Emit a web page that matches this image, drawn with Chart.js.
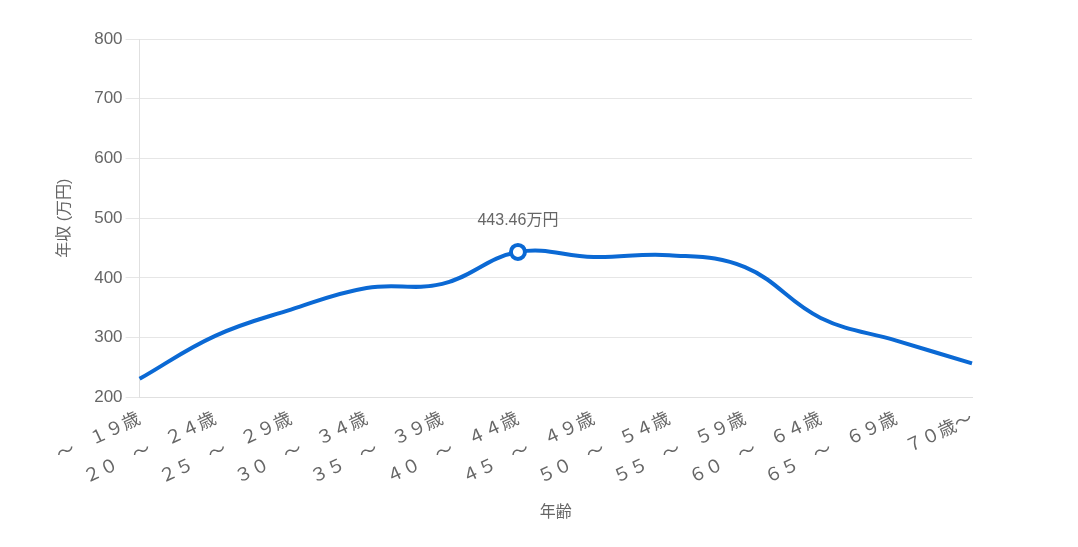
<!DOCTYPE html>
<html lang="ja">
<head>
<meta charset="utf-8">
<script src="https://cdn.jsdelivr.net/npm/chart.js@4"></script>
<style>
  html, body { margin: 0; padding: 0; background: #fff; }
  #wrap { width: 1078px; height: 547px; }
</style>
</head>
<body>
<div id="wrap"><canvas id="incomeChart"></canvas></div>
<script>
// Age brackets (x axis)
const ageLabels = [
  '～　１９歳', '２０　～　２４歳', '２５　～　２９歳', '３０　～　３４歳',
  '３５　～　３９歳', '４０　～　４４歳', '４５　～　４９歳', '５０　～　５４歳',
  '５５　～　５９歳', '６０　～　６４歳', '６５　～　６９歳', '７０歳～'
];

// Annual income in 万円
const incomeValues = [231, 303, 347, 383, 390, 443.46, 435, 438, 418, 333, 295, 257];

// Y axis range
const yMin = 200;
const yMax = 800;
const yStep = 100;

const FONT = "'Liberation Sans', 'Noto Sans CJK JP', sans-serif";
const TEXT = '#666666';

// Index of the highlighted (max) point
const peakIndex = incomeValues.indexOf(Math.max(...incomeValues));

// Draws the value label above the highlighted point
const peakLabel = {
  id: 'peakLabel',
  afterDatasetsDraw(chart) {
    const pt = chart.getDatasetMeta(0).data[peakIndex];
    if (!pt) return;
    const ctx = chart.ctx;
    ctx.save();
    ctx.fillStyle = TEXT;
    ctx.font = '16px ' + FONT;
    ctx.textAlign = 'center';
    ctx.textBaseline = 'middle';
    ctx.fillText(incomeValues[peakIndex].toFixed(2) + '万円', pt.x, pt.y - 31);
    ctx.restore();
  }
};

new Chart(document.getElementById('incomeChart'), {
  type: 'line',
  data: {
    labels: ageLabels,
    datasets: [{
      data: incomeValues,
      borderColor: '#0b69d4',
      borderWidth: 4,
      tension: 0.4,
      fill: false,
      pointRadius: incomeValues.map((v, i) => i === peakIndex ? 7 : 0),
      pointBackgroundColor: '#ffffff',
      pointBorderColor: '#0b69d4',
      pointBorderWidth: 4
    }]
  },
  options: {
    responsive: true,
    maintainAspectRatio: false,
    animation: false,
    layout: { padding: { left: 51, right: 106, top: 39, bottom: 21 } },
    plugins: {
      legend: { display: false },
      tooltip: { enabled: false }
    },
    scales: {
      x: {
        grid: { display: false },
        border: { display: true, color: '#e0e0e0' },
        ticks: {
          color: TEXT,
          font: { family: FONT, size: 18 },
          maxRotation: 25,
          minRotation: 25,
          autoSkip: false
        },
        title: {
          display: true,
          text: '年齢',
          color: TEXT,
          font: { family: FONT, size: 16 },
          padding: { top: 11 }
        }
      },
      y: {
        min: yMin,
        max: yMax,
        grid: { color: '#e6e6e6', tickLength: 14 },
        border: { display: true, color: '#e0e0e0' },
        ticks: {
          stepSize: yStep,
          color: TEXT,
          font: { family: FONT, size: 17 },
          padding: 3
        },
        title: {
          display: true,
          text: '年収 (万円)',
          color: TEXT,
          font: { family: FONT, size: 16 },
          padding: { bottom: 17 }
        }
      }
    }
  },
  plugins: [peakLabel]
});
</script>
</body>
</html>
